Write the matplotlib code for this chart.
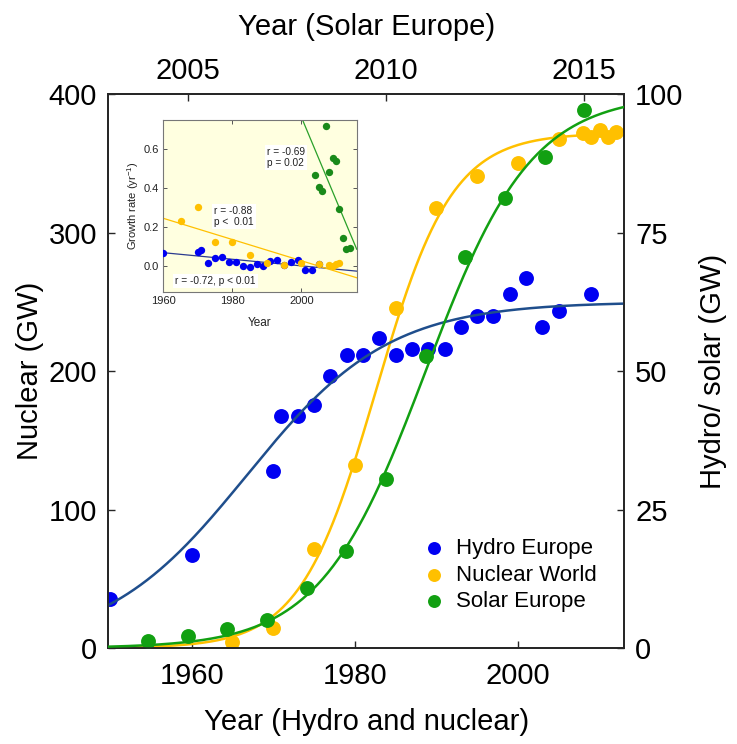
import numpy as np
import matplotlib
matplotlib.use("Agg")
import matplotlib.pyplot as plt

plt.rcParams['font.family'] = ['Liberation Sans', 'DejaVu Sans']
plt.rcParams['mathtext.fontset'] = 'custom'
plt.rcParams['mathtext.rm'] = 'Liberation Sans'
plt.rcParams['mathtext.it'] = 'Liberation Sans:italic'

# ---------------- main panel data ----------------
hydro_years = [1950, 1960, 1970, 1971, 1973, 1975, 1977, 1979, 1981, 1983, 1985,
               1987, 1989, 1991, 1993, 1995, 1997, 1999, 2001, 2003, 2005, 2009]
hydro_gw = [8.9, 16.8, 31.9, 41.9, 41.9, 43.8, 49.1, 53.0, 53.0, 56.0, 53.0,
            54.0, 54.0, 54.0, 57.9, 59.9, 59.9, 64.0, 66.9, 57.9, 60.9, 64.0]

nuclear_years = [1965, 1970, 1975, 1980, 1985, 1990, 1995, 2000, 2005,
                 2008, 2009, 2010, 2011, 2012]
nuclear_gw = [4.0, 14.8, 71.2, 132.3, 245.4, 317.7, 340.9, 350.0, 368.0,
              372.0, 369.0, 374.0, 369.0, 373.0]

solar_years = [2004, 2005, 2006, 2007, 2008, 2009, 2010, 2011, 2012, 2013, 2014, 2015]
solar_gw = [1.3, 2.2, 3.5, 5.0, 10.75, 17.5, 30.6, 52.8, 70.6, 81.3, 88.6, 97.1]

# fitted logistic curves (capacity K, rate r, midpoint t0)
hydro_fit = (62.5, 0.115, 1966.8)
nuclear_fit = (372.0, 0.215, 1982.6)
solar_fit = (100.0, 0.75, 2011.0)

labels = ["Hydro Europe", "Nuclear World", "Solar Europe"]

bottom_ticks = [1960, 1980, 2000]
top_ticks = [2005, 2010, 2015]
left_ticks = [0, 100, 200, 300, 400]
right_ticks = [0, 25, 50, 75, 100]

# ---------------- inset data (growth rates) ----------------
g_hydro_years = [1960, 1970, 1971, 1973, 1975, 1977, 1979, 1981, 1983, 1985,
                 1987, 1989, 1991, 1993, 1995, 1997, 1999, 2001, 2003, 2005]
g_hydro = [0.067, 0.072, 0.080, 0.013, 0.040, 0.046, 0.019, 0.017, 0.000, -0.008,
           0.008, -0.002, 0.023, 0.027, 0.002, 0.019, 0.029, -0.021, -0.021, 0.010]
g_nuc_years = [1965, 1970, 1975, 1980, 1985, 1990, 1995, 2000, 2005, 2008, 2009, 2010, 2011]
g_nuc = [0.232, 0.300, 0.123, 0.123, 0.053, 0.016, 0.004, 0.015, 0.008, 0.003, 0.000, 0.007, 0.012]
g_solar_years = [2004, 2005, 2006, 2007, 2008, 2009, 2010, 2011, 2012, 2013, 2014]
g_solar = [0.469, 0.404, 0.387, 0.720, 0.484, 0.552, 0.541, 0.290, 0.141, 0.084, 0.090]

# regression lines (end points)
reg_hydro = ([1960, 2016], [0.067, -0.028])
reg_nuc = ([1960, 2016], [0.244, -0.062])
reg_solar = ([2000, 2016], [0.764, 0.085])

inset_xticks = [1960, 1980, 2000]
inset_yticks = [0.0, 0.2, 0.4, 0.6]

# ---------------- colours ----------------
c_hydro = '#0000F2'
c_hydro_line = '#1F4E8C'
c_nuc = '#FFC000'
c_solar = '#12A012'
c_solar_in = '#1A8A1A'
spine_c = '#262626'


def logistic(t, p):
    K, r, t0 = p
    return K / (1.0 + np.exp(-r * (np.asarray(t) - t0)))


fig = plt.figure(figsize=(7.37, 7.44), dpi=100)
ax1 = fig.add_axes([0.147, 0.129, 0.6997, 0.7443])   # nuclear: bottom x, left y
ax2 = ax1.twinx()                                     # hydro: bottom x, right y
ax3 = ax2.twiny()                                     # solar: top x, right y

ax1.set_xlim(1949.8, 2013.0)
ax1.set_ylim(0, 400)
ax2.set_ylim(0, 100)
ax3.set_xlim(2003.0, 2016.0)

ms = 115
# nuclear
h_nuc = ax1.scatter(nuclear_years, nuclear_gw, s=ms, color=c_nuc, lw=0, zorder=2)
tn = np.linspace(1949.8, 2013.0, 400)
ax1.plot(tn, logistic(tn, nuclear_fit), color=c_nuc, lw=1.8, zorder=3)
# hydro
h_hyd = ax2.scatter(hydro_years, hydro_gw, s=ms, color=c_hydro, lw=0, zorder=2)
ax2.plot(tn, logistic(tn, hydro_fit), color=c_hydro_line, lw=1.8, zorder=3)
# solar
h_sol = ax3.scatter(solar_years, solar_gw, s=ms, color=c_solar, lw=0, zorder=2)
ts = np.linspace(2003.0, 2016.0, 400)
ax3.plot(ts, logistic(ts, solar_fit), color=c_solar, lw=1.8, zorder=3)

fs = 21
ax1.set_xticks(bottom_ticks)
ax1.set_yticks(left_ticks)
ax2.set_yticks(right_ticks)
ax3.set_xticks(top_ticks)

ax1.tick_params(axis='x', direction='in', length=5, width=1, labelsize=fs, pad=10,
                colors=spine_c, labelcolor='black')
ax1.tick_params(axis='y', direction='in', length=5, width=1, labelsize=fs, pad=8,
                colors=spine_c, labelcolor='black')
ax2.tick_params(axis='y', direction='in', length=5, width=1, labelsize=fs, pad=8,
                colors=spine_c, labelcolor='black')
ax3.tick_params(axis='x', direction='in', length=5, width=1, labelsize=fs, pad=7,
                colors=spine_c, labelcolor='black')

for a in (ax1, ax2, ax3):
    for sp in a.spines.values():
        sp.set_color(spine_c)
        sp.set_linewidth(1.1)

ax1.set_xlabel('Year (Hydro and nuclear)', fontsize=fs, va='center')
ax1.xaxis.set_label_coords(0.5, -0.1336)
ax1.set_ylabel('Nuclear (GW)', fontsize=fs, va='center')
ax1.yaxis.set_label_coords(-0.152, 0.5)
ax2.set_ylabel('Hydro/ solar (GW)', fontsize=fs, va='center', rotation=90)
ax2.yaxis.set_label_coords(1.1726, 0.5)
ax3.set_xlabel('Year (Solar Europe)', fontsize=fs, va='center')
ax3.xaxis.set_label_coords(0.5, 1.1206)

ax3.legend([h_hyd, h_nuc, h_sol], labels, loc='upper left',
           bbox_to_anchor=(0.610, 0.1986), frameon=False, fontsize=16,
           borderpad=0, borderaxespad=0, handlelength=1.0, handletextpad=0.5,
           labelspacing=0.25, markerscale=0.87, scatterpoints=1)

# ---------------- inset ----------------
axi = fig.add_axes([0.2216, 0.6071, 0.2624, 0.2316])
axi.set_facecolor('#FFFFE0')
axi.set_xlim(1960, 2016)
axi.set_ylim(-0.137, 0.75)

mi = 28
axi.scatter(g_hydro_years, g_hydro, s=mi, color=c_hydro, lw=0, zorder=3)
axi.scatter(g_nuc_years, g_nuc, s=mi, color=c_nuc, lw=0, zorder=3)
axi.scatter(g_solar_years, g_solar, s=mi, color=c_solar_in, lw=0, zorder=3)
axi.plot(*reg_hydro, color='#2B3A8F', lw=0.9, zorder=2)
axi.plot(*reg_nuc, color=c_nuc, lw=0.9, zorder=2)
axi.plot(*reg_solar, color='#2AA02A', lw=0.9, zorder=2)

axi.set_xticks(inset_xticks)
axi.set_yticks(inset_yticks)
axi.set_yticklabels([f'{v:.1f}' for v in inset_yticks])
axi.tick_params(direction='in', length=3, width=0.7, labelsize=8, pad=3,
                top=True, right=True, colors='#555555', labelcolor='#222222')
for sp in axi.spines.values():
    sp.set_color('#777777')
    sp.set_linewidth(0.8)
axi.set_xlabel('Year', fontsize=8.5, color='#222222', va='center')
axi.xaxis.set_label_coords(0.5, -0.178)
axi.set_ylabel(r'Growth rate (yr$^{-1}$)', fontsize=8, color='#222222', va='center')
axi.yaxis.set_label_coords(-0.155, 0.5)

box = dict(facecolor='white', edgecolor='none', pad=1.5)
axi.text(0.536, 0.843, 'r = -0.69\np = 0.02', transform=axi.transAxes, fontsize=7.3,
         ha='left', va='top', bbox=box, color='#222222', zorder=5, linespacing=1.1)
axi.text(0.262, 0.501, 'r = -0.88\np <  0.01', transform=axi.transAxes, fontsize=7.3,
         ha='left', va='top', bbox=box, color='#222222', zorder=5, linespacing=1.1)
axi.text(0.06, 0.066, 'r = -0.72, p < 0.01', transform=axi.transAxes, fontsize=7.3,
         ha='left', va='center', bbox=box, color='#222222', zorder=5)

fig.savefig('out.png', dpi=100)
